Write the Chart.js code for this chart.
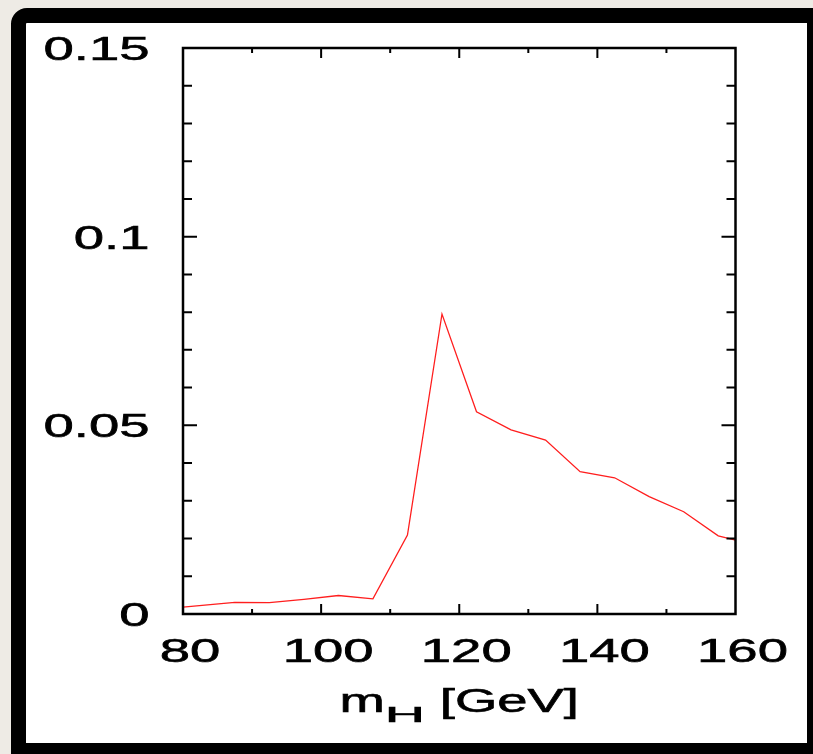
<!DOCTYPE html>
<html>
<head>
<meta charset="utf-8">
<script src="https://cdn.jsdelivr.net/npm/chart.js@4"></script>
<style>
  body { margin: 0; background: #eeebe5; overflow: hidden; }
  #frame {
    position: absolute; left: 11px; top: 8px;
    width: 781px; height: 720px;
    border: 15px solid #000; border-top-left-radius: 16px;
    background: #fff;
  }
  #chart { position: absolute; left: 0; top: 0; }
</style>
</head>
<body>
<div id="frame"></div>
<canvas id="chart" width="813" height="754"></canvas>
<script>
// Higgs mass (GeV) and plotted fraction
const massValues = [80, 87.5, 92.5, 97.5, 102.5, 107.5, 112.5, 117.5, 122.5, 127.5, 132.5, 137.5, 142.5, 147.5, 152.5, 157.5, 160];
const fractionValues = [0.0018, 0.0031, 0.0030, 0.0039, 0.0049, 0.0040, 0.0209, 0.0795, 0.0536, 0.0488, 0.0461, 0.0377, 0.0361, 0.0311, 0.0271, 0.0207, 0.0196];

const xTickValues = [80, 100, 120, 140, 160];
const xTickLabels = ['80', '100', '120', '140', '160'];
const yTickValues = [0, 0.05, 0.1, 0.15];
const yTickLabels = ['0', '0.05', '0.1', '0.15'];

const STRETCH = 1.65; // labels in the picture are wide

function wideText(ctx, text, px, py, align, sx) {
    ctx.save();
    ctx.translate(px, py);
    ctx.scale(sx, 1);
    ctx.textAlign = align;
    ctx.lineWidth = 0.6;
    ctx.strokeStyle = '#000';
    ctx.fillText(text, 0, 0);
    ctx.strokeText(text, 0, 0);
    ctx.restore();
}

const framePlugin = {
    id: 'frame',
    afterDatasetsDraw(chart) {
        const ctx = chart.ctx;
        const { left, right, top, bottom } = chart.chartArea;
        const x = chart.scales.x, y = chart.scales.y;
        ctx.save();
        ctx.strokeStyle = '#000';
        ctx.lineWidth = 2.5;
        ctx.strokeRect(left, top, right - left, bottom - top);

        // inward ticks
        ctx.lineWidth = 2;
        ctx.beginPath();
        for (let i = 1; i < 15; i++) {
            const v = i / 100;
            const py = y.getPixelForValue(v);
            const len = i % 5 === 0 ? 14 : 9;
            ctx.moveTo(left, py); ctx.lineTo(left + len, py);
            ctx.moveTo(right, py); ctx.lineTo(right - len, py);
        }
        for (let m = 90; m < 160; m += 10) {
            const px = x.getPixelForValue(m);
            const len = m % 20 === 0 ? 10 : 5;
            ctx.moveTo(px, bottom); ctx.lineTo(px, bottom - len);
            ctx.moveTo(px, top); ctx.lineTo(px, top + len);
        }
        ctx.stroke();

        // tick labels
        ctx.fillStyle = '#000';
        ctx.font = '33px "Liberation Sans", Arial, sans-serif';
        ctx.textBaseline = 'alphabetic';
        yTickValues.forEach((v, i) => {
            wideText(ctx, yTickLabels[i], 149.5, y.getPixelForValue(v) + 12, 'right', STRETCH);
        });
        xTickValues.forEach((v, i) => {
            wideText(ctx, xTickLabels[i], x.getPixelForValue(v) + 7, 662, 'center', STRETCH);
        });

        // axis title m_H [GeV]
        const mainFont = '33px "Liberation Sans", Arial, sans-serif';
        const subFont = '22px "Liberation Sans", Arial, sans-serif';
        ctx.font = mainFont;
        const wM = ctx.measureText('m').width * STRETCH;
        const wRest = ctx.measureText(' [GeV]').width * STRETCH;
        ctx.font = subFont;
        const subStretch = 2.5;
        const wH = ctx.measureText('H').width * subStretch;
        const total = wM + wH + wRest;
        let tx = x.getPixelForValue(120) - total / 2;
        ctx.font = mainFont;
        wideText(ctx, 'm', tx, 712, 'left', STRETCH);
        tx += wM;
        ctx.font = subFont;
        wideText(ctx, 'H', tx, 722, 'left', subStretch);
        tx += wH;
        ctx.font = mainFont;
        wideText(ctx, ' [GeV]', tx, 712, 'left', STRETCH);
        ctx.restore();
    }
};

new Chart(document.getElementById('chart'), {
    type: 'line',
    data: {
        datasets: [{
            data: massValues.map((m, i) => ({ x: m, y: fractionValues[i] })),
            borderColor: 'rgb(255, 30, 30)',
            borderWidth: 1.3,
            pointRadius: 0,
            tension: 0,
            fill: false
        }]
    },
    options: {
        responsive: false,
        animation: false,
        layout: { padding: { left: 183, top: 48, right: 77.5, bottom: 140 } },
        plugins: { legend: { display: false }, tooltip: { enabled: false } },
        scales: {
            x: { type: 'linear', min: 80, max: 160, display: false },
            y: { min: 0, max: 0.15, display: false }
        }
    },
    plugins: [framePlugin]
});
</script>
</body>
</html>
